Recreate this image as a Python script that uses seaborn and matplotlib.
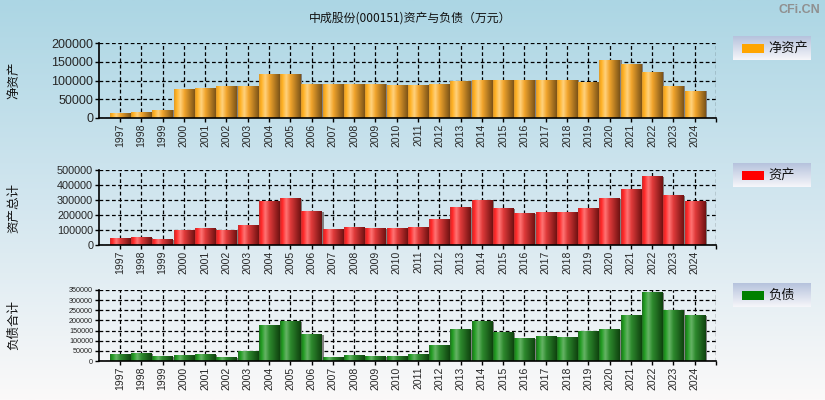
import matplotlib
matplotlib.use("Agg")
import matplotlib.pyplot as plt
import seaborn as sns
import numpy as np
import pandas as pd
from matplotlib.colors import LinearSegmentedColormap
from matplotlib.patches import Rectangle

# Data (万元)
years = [str(y) for y in range(1997, 2025)]
net_assets = [13300, 16000, 21000, 77000, 80000, 85000, 85000, 117000, 117000, 90000,
              90000, 90000, 90000, 88000, 88000, 90000, 98000, 101000, 101000, 101000,
              101000, 101000, 96000, 154000, 143000, 122000, 85000, 72000]
total_assets = [42000, 49000, 36000, 98000, 109000, 98000, 129000, 289000, 309000, 222000,
                102000, 116000, 109000, 109000, 116000, 169000, 249000, 296000, 242000, 209000,
                216000, 216000, 242000, 309000, 369000, 456000, 329000, 289000]
total_liab = [30000, 35000, 20000, 25000, 30000, 15000, 45000, 173000, 193000, 129000,
              15000, 25000, 20000, 20000, 30000, 74000, 154000, 193000, 139000, 109000,
              119000, 114000, 144000, 154000, 223000, 337000, 248000, 223000]

title = "中成股份(000151)资产与负债（万元）"
panels = [
    ("净资产", "净资产", net_assets, 200000, 50000, "#FFA500",
     ["#DE9A2C", "#FFB020", "#FFD27E", "#F2A52C", "#7C5418"], 9),
    ("资产总计", "资产", total_assets, 500000, 100000, "#FF0000",
     ["#C83030", "#FF2424", "#FF7474", "#E03A3A", "#701212"], 7.8),
    ("负债合计", "负债", total_liab, 350000, 50000, "#008000",
     ["#226E22", "#1E9A1E", "#66B466", "#2E8A2E", "#0E420E"], 5.2),
]

sns.set_theme(style="white")
plt.rcParams["font.family"] = ["Noto Sans CJK SC", "DejaVu Sans"]

W, H = 825, 400
fig = plt.figure(figsize=(W / 100, H / 100), dpi=100)

# background gradient
bg = fig.add_axes([0, 0, 1, 1], zorder=-10)
bg_cmap = LinearSegmentedColormap.from_list("bg", ["#ACD6E4", "#D2E6EF", "#FBF9F9"])
bg.imshow(np.linspace(0, 1, 256).reshape(-1, 1), cmap=bg_cmap, aspect="auto",
          extent=[0, 1, 0, 1])
bg.set_axis_off()

fig.text(410 / W, 1 - 18 / H, title, ha="center", va="center", fontsize=8.6, color="#111111")
fig.text(820 / W, 1 - 10 / H, "CFi.CN", ha="right", va="center", fontsize=9,
         color="#909090", fontweight="bold", family=["Liberation Sans", "DejaVu Sans"])

# axes boxes in pixels: (top, bottom)
boxes = [(43, 118), (170, 245), (290, 361)]
legend_boxes = [(36, 60), (163, 187), (283, 307)]
x0, x1 = 98.7, 716

grad = np.linspace(0, 1, 64).reshape(1, -1)

for (ylab, leg, vals, ymax, ystep, legc, stops, tfs), (top, bot), (lt, lb) in zip(
        panels, boxes, legend_boxes):
    ax = fig.add_axes([x0 / W, 1 - bot / H, (x1 - x0) / W, (bot - top) / H])
    ax.patch.set_alpha(0)
    df = pd.DataFrame({"year": years, "value": vals})
    sns.barplot(data=df, x="year", y="value", ax=ax, width=0.95, color=legc)
    cmap = LinearSegmentedColormap.from_list("bar", list(zip([0, 0.1, 0.3, 0.5, 1.0], stops)))
    for p in list(ax.patches):
        bx, bw, bh = p.get_x(), p.get_width(), p.get_height()
        ax.add_patch(Rectangle((bx + 0.09, 0), bw, bh, facecolor="#808080",
                               edgecolor="none", zorder=2))
        ax.imshow(grad, cmap=cmap, aspect="auto", extent=[bx, bx + bw, 0, bh],
                  zorder=3, interpolation="bilinear")
        p.set_visible(False)
    ax.set_xlim(-1, 28)
    ax.set_ylim(0, ymax)
    ax.set_xticks(range(29))
    ax.set_xticklabels(years + [""], rotation=90, fontsize=7.5,
                       family=["Liberation Sans", "DejaVu Sans"])
    ax.set_yticks(np.arange(0, ymax + 1, ystep))
    ax.set_yticklabels([str(int(v)) for v in np.arange(0, ymax + 1, ystep)], fontsize=tfs,
                       family=["Liberation Sans", "DejaVu Sans"])
    ax.grid(True, color="black", linestyle=(0, (3, 2)), linewidth=0.9, zorder=1)
    ax.set_axisbelow(True)
    ax.tick_params(axis="both", length=3, width=1, color="black", pad=1,
                   bottom=True, left=True)
    for s in ["top", "right"]:
        ax.spines[s].set_visible(False)
    for s in ["left", "bottom"]:
        ax.spines[s].set_color("black")
        ax.spines[s].set_linewidth(1.2)
        ax.spines[s].set_zorder(5)
    ax.set_xlabel("")
    ax.set_ylabel("")
    fig.text(14 / W, 1 - (top + bot) / 2 / H, ylab, rotation=90, ha="center", va="center",
             fontsize=9, color="#111111")

    # legend box
    lax = fig.add_axes([733 / W, 1 - lb / H, 78 / W, (lb - lt) / H])
    lcmap = LinearSegmentedColormap.from_list("leg", ["#F6F6FA", "#B6C3DD"])
    lax.imshow(np.linspace(0, 1, 64).reshape(-1, 1), cmap=lcmap, aspect="auto",
               extent=[0, 78, 0, lb - lt], origin="lower")
    lax.add_patch(Rectangle((9, 7.5), 22, 9, facecolor=legc, edgecolor="none"))
    lax.text(35, (lb - lt) / 2, leg, ha="left", va="center", fontsize=9.5, color="#111111")
    lax.set_xlim(0, 78)
    lax.set_ylim(0, lb - lt)
    lax.set_axis_off()

fig.savefig("out.png", dpi=100)
